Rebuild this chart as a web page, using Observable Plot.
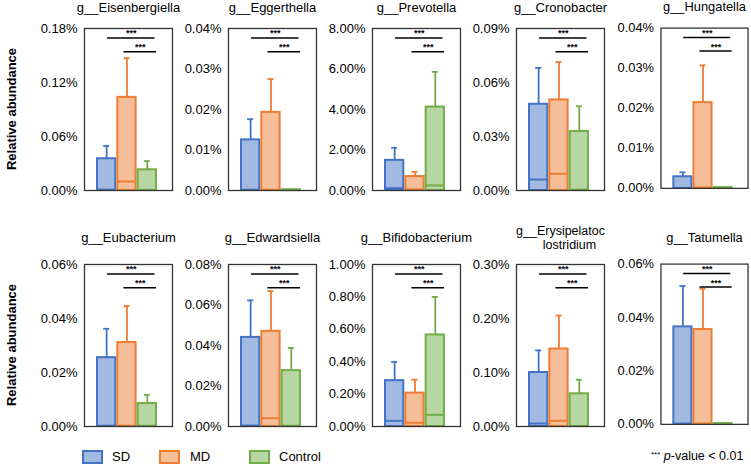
<!DOCTYPE html>
<html>
<head>
<meta charset="utf-8">
<script src="https://cdn.jsdelivr.net/npm/d3@7"></script>
<script src="https://cdn.jsdelivr.net/npm/@observablehq/plot@0.6"></script>
<style>
  html, body { margin: 0; padding: 0; background: #fff; }
  #root { position: relative; width: 751px; height: 465px; overflow: hidden; font-family: 'Liberation Sans', Arial, sans-serif; color: #000; }
  .panel { position: absolute; }
  .ylab { position: absolute; font-weight: bold; font-size: 13px; white-space: nowrap; transform: translate(-50%, -50%) rotate(-90deg); }
  .leg { position: absolute; font-size: 13px; white-space: nowrap; }
  .sw { position: absolute; width: 17px; height: 10px; border: 2px solid; }
</style>
</head>
<body>
<div id="root"></div>
<script>
// ---------- data ----------
const groups = ["SD", "MD", "Control"];
const strokeColors = ["#4472C4", "#ED7D31", "#70AD47"];
const genera = ["g__Eisenbergiella", "g__Eggerthella", "g__Prevotella", "g__Cronobacter", "g__Hungatella",
                "g__Eubacterium", "g__Edwardsiella", "g__Bifidobacterium", "g__Erysipelatoc\nlostridium", "g__Tatumella"];
// mean (bar top), upper error, median line  — all in %
const sdMean    = [0.0353, 0.0125, 1.49, 0.0479, 0.0029, 0.0255, 0.0440, 0.283, 0.100, 0.0365];
const sdUpper   = [0.0494, 0.0176, 2.11, 0.0681, 0.0040, 0.0362, 0.0623, 0.398, 0.141, 0.0518];
const sdMedian  = [0.0010, 0.0002, 0.115, 0.0061, 0.0001, 0.0003, 0.0005, 0.035, 0.0056, 0.0003];
const mdMean    = [0.1035, 0.0193, 0.69, 0.0503, 0.0214, 0.0311, 0.0470, 0.206, 0.1435, 0.0355];
const mdUpper   = [0.147, 0.0275, 0.92, 0.0714, 0.0307, 0.0446, 0.0669, 0.289, 0.2054, 0.0507];
const mdMedian  = [0.0100, 0.0002, 0.06, 0.0093, 0.0002, 0.0003, 0.0041, 0.023, 0.0105, 0.0003];
const ctrlMean  = [0.0230, 0.0002, 4.12, 0.0328, 0.0002, 0.0085, 0.0276, 0.565, 0.0606, 0.0003];
const ctrlUpper = [0.0327, null, 5.86, 0.0468, null, 0.0117, 0.0388, 0.80, 0.0866, null];
const ctrlMedian= [0.0007, 0.0001, 0.25, 0.0005, 0.0001, 0.0003, 0.0004, 0.072, 0.0010, 0.0001];
const yTicks = [
  [0, 0.06, 0.12, 0.18], [0, 0.01, 0.02, 0.03, 0.04], [0, 2, 4, 6, 8], [0, 0.03, 0.06, 0.09], [0, 0.01, 0.02, 0.03, 0.04],
  [0, 0.02, 0.04, 0.06], [0, 0.02, 0.04, 0.06, 0.08], [0, 0.2, 0.4, 0.6, 0.8, 1.0], [0, 0.1, 0.2, 0.3], [0, 0.02, 0.04, 0.06]
];
const comparisons = [["SD", "Control"], ["MD", "Control"]];
const sigLabel = "***";
const yTitle = "Relative abundance";

// ---------- layout ----------
const root = document.getElementById("root");
const frameW = 88, frameH = 162;
const mL = 50, mR = 4, mT = 38, mB = 6;
const frameTops = [28, 263.5];
const bracketLevels = [
  {frac: 0.942, s: 0.04, e: 0.38},
  {frac: 0.857, s: -0.15, e: 0.45}
];

genera.forEach((name, i) => {
  const r = Math.floor(i / 5), c = i % 5;
  const left = 83.5 + c * 144.25;
  const top = frameTops[r];
  const ticks = yTicks[i];
  const ymax = ticks[ticks.length - 1];
  const means = [sdMean[i], mdMean[i], ctrlMean[i]];
  const uppers = [sdUpper[i], mdUpper[i], ctrlUpper[i]];
  const medians = [sdMedian[i], mdMedian[i], ctrlMedian[i]];
  const rows = groups.map((g, j) => ({g, j, mean: means[j], upper: uppers[j], median: medians[j]}));
  const errs = rows.filter(d => d.upper != null);
  const brackets = comparisons.map(([a, b], k) => {
    const L = bracketLevels[k];
    const x1 = groups.indexOf(a) + L.s, x2 = groups.indexOf(b) + L.e;
    return {x1, x2, xm: (x1 + x2) / 2, y: L.frac * ymax, label: sigLabel};
  });
  const lines = name.split("\n");
  const titleMarks = lines.length === 1
    ? [Plot.text([lines[0]], {frameAnchor: "top", dy: r === 0 ? -21 : -27, text: d => d, fontSize: 13, lineAnchor: "middle"})]
    : [Plot.text([lines[0]], {frameAnchor: "top", dy: -34, text: d => d, fontSize: 12.5, lineAnchor: "middle"}),
       Plot.text([lines[1]], {frameAnchor: "top", dy: -20, dx: 9, text: d => d, fontSize: 12.5, lineAnchor: "middle"})];

  const chart = Plot.plot({
    width: mL + frameW + mR,
    height: mT + frameH + mB,
    marginLeft: mL, marginRight: mR, marginTop: mT, marginBottom: mB,
    x: {domain: [-1.09, 3.24], axis: null},
    y: {domain: [0, ymax], ticks: ticks, tickFormat: d => d.toFixed(2) + "%", tickSize: 0, tickPadding: 7, label: null},
    color: {domain: groups, range: strokeColors},
    style: {fontFamily: "'Liberation Sans', Arial, sans-serif", fontSize: "13px", color: "#000", background: "transparent", overflow: "visible"},
    marks: [
      Plot.ruleX(errs, {x: "j", y1: "mean", y2: "upper", stroke: "g", strokeWidth: 1.8}),
      Plot.ruleY(errs, {y: "upper", x1: d => d.j - 0.15, x2: d => d.j + 0.15, stroke: "g", strokeWidth: 1.8}),
      Plot.rect(rows, {x1: d => d.j - 0.45, x2: d => d.j + 0.45, y1: 0, y2: "mean", fill: "g", fillOpacity: 0.5, stroke: "g", strokeWidth: 2}),
      Plot.ruleY(rows, {y: "median", x1: d => d.j - 0.45, x2: d => d.j + 0.45, stroke: "g", strokeWidth: 2}),
      Plot.ruleY(brackets, {y: "y", x1: "x1", x2: "x2", stroke: "#000", strokeWidth: 1.5}),
      Plot.text(brackets, {x: "xm", y: "y", text: "label", dy: -1.5, lineAnchor: "bottom", fontSize: 9, fontWeight: "bold"}),
      ...titleMarks,
      Plot.frame({stroke: "#333", strokeWidth: 1.3})
    ]
  });
  const wrap = document.createElement("div");
  wrap.className = "panel";
  wrap.style.left = (left - mL) + "px";
  wrap.style.top = (top - mT) + "px";
  wrap.appendChild(chart);
  root.appendChild(wrap);
});

// y titles
frameTops.forEach(t => {
  const d = document.createElement("div");
  d.className = "ylab";
  d.textContent = yTitle;
  d.style.left = "11px";
  d.style.top = (t + frameH / 2) + "px";
  root.appendChild(d);
});

// legend
const legendX = [[82, 112], [159, 190], [249, 279]];
groups.forEach((g, j) => {
  const sw = document.createElement("div");
  sw.className = "sw";
  sw.style.left = legendX[j][0] + "px";
  sw.style.top = "450px";
  sw.style.borderColor = strokeColors[j];
  sw.style.background = d3.interpolateRgb(strokeColors[j], "#fff")(0.5);
  root.appendChild(sw);
  const t = document.createElement("div");
  t.className = "leg";
  t.textContent = g;
  t.style.left = legendX[j][1] + "px";
  t.style.top = "449px";
  root.appendChild(t);
});
const note = document.createElement("div");
note.className = "leg";
note.style.left = "651px";
note.style.top = "449px";
note.style.fontSize = "12.5px";
note.innerHTML = '<span style="font-size:8px;vertical-align:3px;">' + sigLabel + '</span> <i>p</i>-value &lt; 0.01';
root.appendChild(note);
</script>
</body>
</html>
